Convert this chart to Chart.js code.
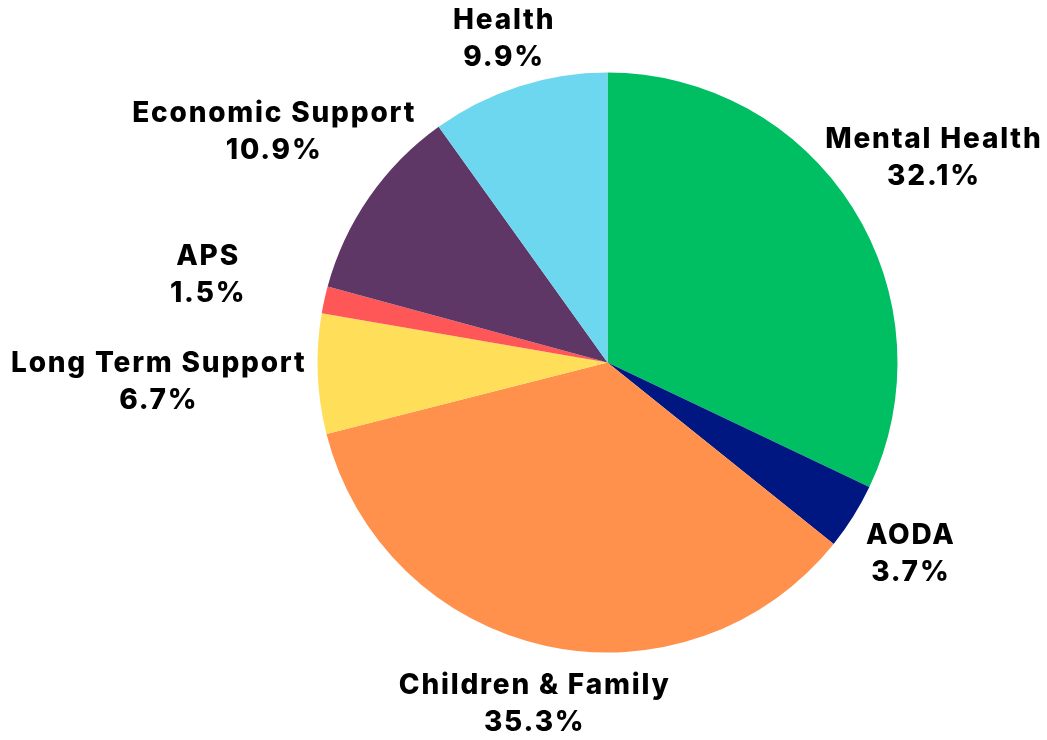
<!DOCTYPE html>
<html>
<head>
<meta charset="utf-8">
<title>Program Spending Share</title>
<script src="https://cdn.jsdelivr.net/npm/chart.js@4.4.1/dist/chart.umd.min.js"></script>
<style>
  html, body { margin: 0; padding: 0; background: #ffffff; }
  #wrap { width: 1047px; height: 740px; position: relative; }
</style>
</head>
<body>
<div id="wrap"><canvas id="pie"></canvas></div>
<script>
// Program areas and their share of the total (percent)
const categories = [
  'Mental Health',
  'AODA',
  'Children & Family',
  'Long Term Support',
  'APS',
  'Economic Support',
  'Health'
];
const shares = [32.1, 3.7, 35.3, 6.7, 1.5, 10.9, 9.9];

// Slice colours, in category order
const sliceColors = ['#00bf63', '#001782', '#ff914d', '#ffde59', '#ff5757', '#5e3767', '#6cd7ee'];

// How far past the rim each label block sits, along its slice's middle angle
const labelReach = [95, 67, 58, 160, 120, 117, 51];

const FONT = '800 28px Inter, "Open Sans", sans-serif';
const TRACKING = 1.8;
const LINE_GAP = 37;
const CAP = 20;

const outsideLabels = {
  id: 'outsideLabels',
  afterDatasetsDraw(chart) {
    const ctx = chart.ctx;
    const meta = chart.getDatasetMeta(0);
    ctx.save();
    ctx.font = FONT;
    if ('letterSpacing' in ctx) ctx.letterSpacing = TRACKING + 'px';
    ctx.fillStyle = '#000000';
    ctx.textAlign = 'center';
    ctx.textBaseline = 'alphabetic';
    meta.data.forEach((arc, i) => {
      const p = arc.getProps(['x', 'y', 'startAngle', 'endAngle', 'outerRadius'], true);
      const mid = (p.startAngle + p.endAngle) / 2;
      const d = p.outerRadius + labelReach[i];
      // trailing tracking is counted in the measured width, so nudge right by half of it
      const cx = p.x + Math.cos(mid) * d + TRACKING / 2;
      const cy = p.y + Math.sin(mid) * d;
      const value = chart.data.datasets[0].data[i];
      ctx.fillText(chart.data.labels[i], cx, cy - LINE_GAP / 2 + CAP / 2);
      ctx.fillText(value.toFixed(1) + '%', cx, cy + LINE_GAP / 2 + CAP / 2);
    });
    ctx.restore();
  }
};

new Chart(document.getElementById('pie'), {
  type: 'pie',
  data: {
    labels: categories,
    datasets: [{
      data: shares,
      backgroundColor: sliceColors,
      borderWidth: 0
    }]
  },
  options: {
    responsive: true,
    maintainAspectRatio: false,
    animation: false,
    layout: { padding: { top: 72.5, bottom: 87.5, left: 317.5, right: 149.5 } },
    plugins: {
      legend: { display: false },
      tooltip: { enabled: false }
    }
  },
  plugins: [outsideLabels]
});
</script>
</body>
</html>
